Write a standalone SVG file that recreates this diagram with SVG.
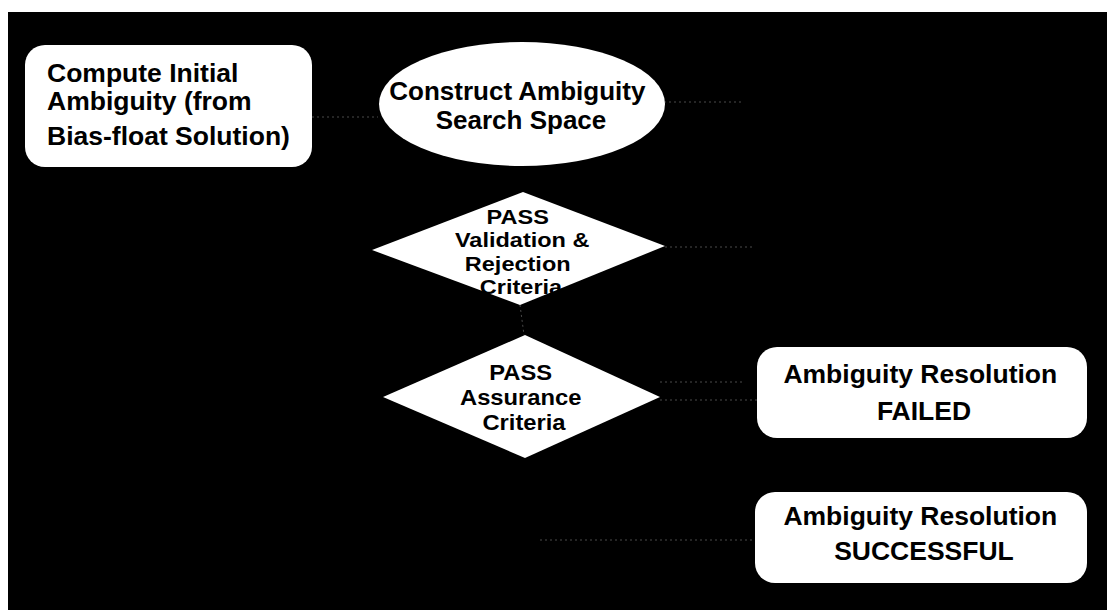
<svg xmlns="http://www.w3.org/2000/svg" width="1108" height="610" viewBox="0 0 1108 610">
  <style>
    .shape { fill: #ffffff; stroke: none; }
    .label { font-family: "Liberation Sans", Arial, sans-serif; font-weight: bold; fill: #000000; text-anchor: middle; }
    .left { text-anchor: start; }
    .link { stroke: #4a4a4a; stroke-width: 1; stroke-dasharray: 2 3; fill: none; }
  </style>
  <rect x="0" y="0" width="1108" height="610" fill="#ffffff"/>
  <rect x="8" y="12" width="1099" height="598" fill="#000000"/>

  <g id="connectors">
    <line class="link" x1="312" y1="117" x2="378" y2="117"/>
    <line class="link" x1="664" y1="102" x2="743" y2="102"/>
    <line class="link" x1="665" y1="247" x2="755" y2="247"/>
    <line class="link" x1="520" y1="305" x2="524" y2="335"/>
    <line class="link" x1="660" y1="382" x2="745" y2="382"/>
    <line class="link" x1="660" y1="400" x2="757" y2="400"/>
    <line class="link" x1="540" y1="540" x2="755" y2="540"/>
  </g>

  <g id="node-initial">
    <rect class="shape" x="25" y="45" width="287" height="122" rx="20" ry="20"/>
    <text class="label left" font-size="26.5">
      <tspan x="47" y="82">Compute Initial</tspan>
      <tspan x="47" y="110">Ambiguity (from</tspan>
      <tspan x="47" y="145">Bias-float Solution)</tspan>
    </text>
  </g>

  <g id="node-search-space">
    <ellipse class="shape" cx="522" cy="104" rx="143" ry="62"/>
    <text class="label" font-size="26">
      <tspan x="521" y="100">Construct Ambiguity</tspan>
      <tspan x="521" y="129">Search Space</tspan>
    </text>
  </g>

  <g id="node-validation">
    <polygon class="shape" points="523,192 665,246 520,305 372,250"/>
    <g transform="translate(521 0) scale(1.12 1)">
      <text class="label" font-size="21">
        <tspan x="0" y="224">PASS</tspan>
        <tspan x="4" y="247.5">Validation &amp;</tspan>
        <tspan x="0" y="271">Rejection</tspan>
        <tspan x="0" y="294.5">Criteria</tspan>
      </text>
    </g>
  </g>

  <g id="node-assurance">
    <polygon class="shape" points="525,335 660,397 525,458 383,397"/>
    <g transform="translate(524 0) scale(1.08 1)">
      <text class="label" font-size="22">
        <tspan x="0" y="380">PASS</tspan>
        <tspan x="0" y="405">Assurance</tspan>
        <tspan x="0" y="430">Criteria</tspan>
      </text>
    </g>
  </g>

  <g id="node-failed">
    <rect class="shape" x="757" y="347" width="330" height="91" rx="20" ry="20"/>
    <text class="label" font-size="26.5">
      <tspan x="924" y="383">Ambiguity Resolution</tspan>
      <tspan x="924" y="420">FAILED</tspan>
    </text>
  </g>

  <g id="node-successful">
    <rect class="shape" x="755" y="492" width="332" height="91" rx="20" ry="20"/>
    <text class="label" font-size="26.5">
      <tspan x="924" y="525">Ambiguity Resolution</tspan>
      <tspan x="924" y="560">SUCCESSFUL</tspan>
    </text>
  </g>
</svg>
